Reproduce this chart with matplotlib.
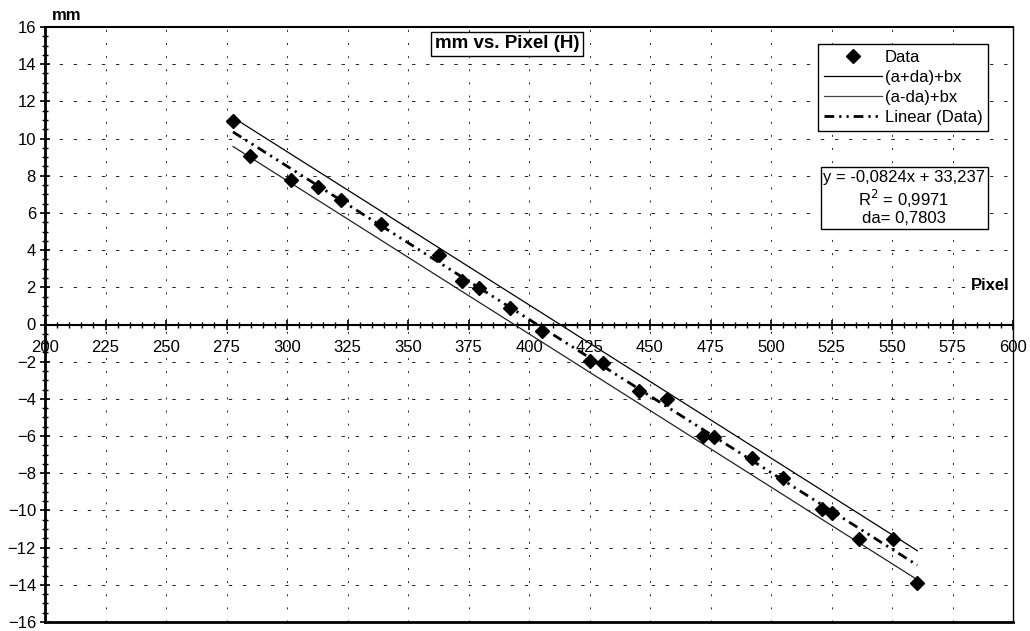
import numpy as np
import matplotlib
matplotlib.use("Agg")
import matplotlib.pyplot as plt
from matplotlib.ticker import MultipleLocator
from matplotlib.lines import Line2D

plt.rcParams["font.family"] = ["Liberation Sans", "DejaVu Sans"]

# ----------------------------
# Data
# ----------------------------
pixel = [277.7, 284.7, 301.5, 312.9, 322.2, 338.7, 362.8, 372.4, 379.3, 392.3,
         405.4, 425.2, 430.6, 445.6, 456.9, 471.8, 476.6, 492.0, 505.1, 520.9,
         525.3, 536.4, 550.3, 560.5]
mm = [10.95, 9.05, 7.75, 7.42, 6.72, 5.43, 3.76, 2.35, 1.95, 0.91,
      -0.34, -1.95, -2.05, -3.55, -4.03, -5.97, -6.06, -7.17, -8.24, -9.91,
      -10.14, -11.52, -11.52, -13.9]

slope = -0.0824
intercept = 33.237
da = 0.7803

title = "mm vs. Pixel (H)"
legend_labels = ["Data", "(a+da)+bx", "(a-da)+bx", "Linear (Data)"]
fit_text = "y = -0,0824x + 33,237\nR$^2$ = 0,9971\nda= 0,7803"

# ----------------------------
# Figure
# ----------------------------
W, H = 1030, 631
fig = plt.figure(figsize=(W / 100, H / 100), dpi=100)
ax = fig.add_axes([45 / W, 1 - 622 / H, (1013 - 45) / W, (622 - 27) / H])

ax.set_xlim(200, 600)
ax.set_ylim(-16, 16)

fit_dash = [3.5, 1.8, 0.8, 1.8, 0.8, 1.8]

# fit lines over data range
xs = np.array([min(pixel), max(pixel)])
fit = slope * xs + intercept
ax.plot(xs, fit + da, color="black", lw=0.9, zorder=3)
ax.plot(xs, fit - da, color="#222222", lw=0.9, zorder=3)
ax.plot(xs, fit, color="black", lw=2, dashes=fit_dash, zorder=3)
ax.plot(pixel, mm, linestyle="none", marker="D", markersize=7.5,
        color="black", zorder=4)

# ----------------------------
# Grid
# ----------------------------
for xv in np.arange(225, 600, 25):
    ax.plot([xv, xv], [-16, 16], color="#222222", lw=0.7,
            dashes=[2, 11.5], zorder=1)
for yv in np.arange(-14, 16, 2):
    if yv == 0:
        continue
    ax.plot([200, 600], [yv, yv], color="#222222", lw=0.7,
            dashes=[3.5, 11], zorder=1)

# ----------------------------
# Axes / spines
# ----------------------------
ax.spines["bottom"].set_position(("data", 0))
ax.spines["bottom"].set_linewidth(1.5)
ax.spines["left"].set_linewidth(2)
ax.spines["top"].set_linewidth(1.5)
ax.spines["right"].set_linewidth(1)
ax.add_line(Line2D([0, 1], [0, 0], transform=ax.transAxes, color="black",
                   lw=2, clip_on=False))

ax.xaxis.set_major_locator(MultipleLocator(25))
ax.xaxis.set_minor_locator(MultipleLocator(5))
ax.yaxis.set_major_locator(MultipleLocator(2))
ax.yaxis.set_minor_locator(MultipleLocator(0.5))

ax.tick_params(axis="x", which="major", direction="inout", length=7,
               width=1.2, labelsize=12, pad=8)
ax.tick_params(axis="x", which="minor", direction="inout", length=5, width=1)
ax.tick_params(axis="y", which="major", direction="inout", length=7,
               width=1.2, labelsize=12, pad=3)
ax.tick_params(axis="y", which="minor", direction="inout", length=5, width=1)

# ----------------------------
# Texts
# ----------------------------
fig.text(67 / W, 1 - 15 / H, "mm", fontsize=12, fontweight="bold",
         va="center", ha="center")
fig.text(990 / W, 1 - 286 / H, "Pixel", fontsize=12, fontweight="bold",
         va="center", ha="center")
fig.text(507 / W, 1 - 44 / H, title, fontsize=13.5, fontweight="bold",
         ha="center", va="center",
         bbox=dict(boxstyle="square,pad=0.2", fc="white", ec="black", lw=1))

handles = [
    Line2D([], [], linestyle="none", marker="D", markersize=7, color="black"),
    Line2D([], [], color="black", lw=0.9),
    Line2D([], [], color="#444444", lw=0.9),
    Line2D([], [], color="black", lw=2, dashes=fit_dash),
]
leg = ax.legend(handles, legend_labels, loc="upper left",
                bbox_to_anchor=(818 / W, 1 - 44 / H),
                bbox_transform=fig.transFigure, fontsize=12,
                fancybox=False, framealpha=1, edgecolor="black",
                handlelength=3.5, handletextpad=0.15, labelspacing=0.3,
                borderpad=0.35, borderaxespad=0)
leg.get_frame().set_linewidth(1)

fig.text(904 / W, 1 - 198 / H, fit_text, fontsize=12, ha="center",
         va="center", multialignment="center", linespacing=1.15,
         bbox=dict(boxstyle="square,pad=0.15", fc="white", ec="black", lw=1))

fig.savefig("out.png", dpi=100)
